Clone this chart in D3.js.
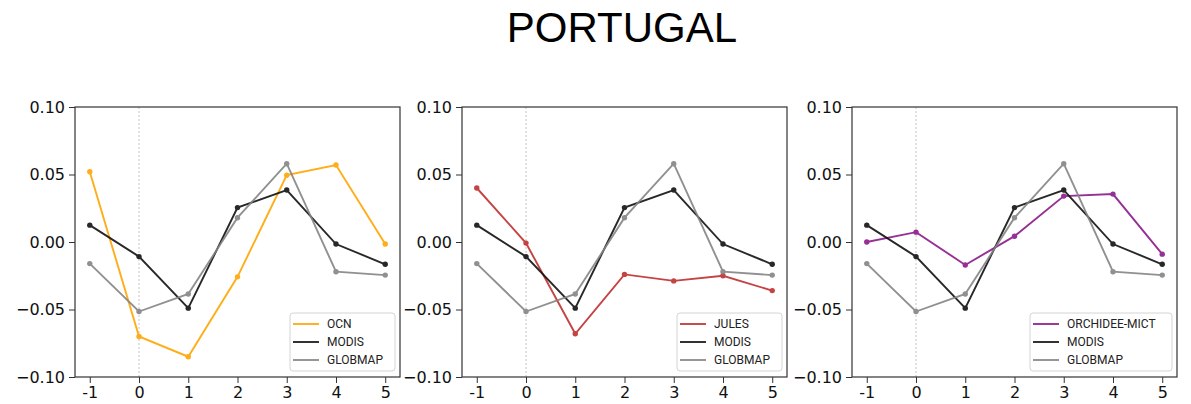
<!DOCTYPE html>
<html>
<head>
<meta charset="utf-8">
<script src="https://cdn.jsdelivr.net/npm/d3@7"></script>
<style>
  html, body { margin: 0; padding: 0; background: #fff; }
  svg { display: block; }
</style>
</head>
<body>
<svg id="chart" width="1191" height="404"></svg>
<script>
// Years relative to the event
const years = [-1, 0, 1, 2, 3, 4, 5];
const yTicks = [-0.10, -0.05, 0.00, 0.05, 0.10];

// Satellite reference series (same in every panel)
const modis   = [0.0125, -0.0108, -0.049, 0.0255, 0.0385, -0.0015, -0.0165];
const globmap = [-0.016, -0.0515, -0.0385, 0.018, 0.058, -0.022, -0.0245];

// Model series, one per panel
const ocn      = [0.052, -0.070, -0.085, -0.0258, 0.0495, 0.057, -0.0015];
const jules    = [0.040, -0.0008, -0.068, -0.024, -0.0288, -0.025, -0.036];
const orchidee = [0.000, 0.0073, -0.017, 0.0043, 0.034, 0.0355, -0.009];

const modelNames = ["OCN", "JULES", "ORCHIDEE-MICT"];
const modelSeries = [ocn, jules, orchidee];
const modelColors = ["#ffa500", "#c02f2f", "#8b1a8b"];

const svg = d3.select("#chart");

svg.append("text")
  .attr("x", 622).attr("y", 42)
  .attr("text-anchor", "middle")
  .style("font-family", "'Liberation Sans', Arial, sans-serif")
  .style("font-size", "42px")
  .attr("fill", "#000")
  .text("PORTUGAL");

const panelLefts = [75, 462, 852];
const panelWidth = 325;
const plotTop = 107, plotBottom = 377;

const y = d3.scaleLinear().domain([-0.10, 0.10]).range([plotBottom, plotTop]);

panelLefts.forEach((left, i) => {
  const x = d3.scaleLinear().domain([-1.3, 5.3]).range([left, left + panelWidth]);
  const g = svg.append("g");

  // dashed marker at year 0
  g.append("line")
    .attr("x1", x(0)).attr("x2", x(0))
    .attr("y1", plotTop).attr("y2", plotBottom)
    .attr("stroke", "#b8b8b8")
    .attr("stroke-width", 0.8)
    .attr("stroke-dasharray", "2,2");

  const series = [
    { name: modelNames[i], values: modelSeries[i], color: modelColors[i] },
    { name: "MODIS", values: modis, color: "#111111" },
    { name: "GLOBMAP", values: globmap, color: "#858585" }
  ];

  const line = d3.line().x((d, k) => x(years[k])).y(d => y(d));

  series.forEach(s => {
    const sg = g.append("g").attr("opacity", 0.9);
    sg.append("path")
      .datum(s.values)
      .attr("d", line)
      .attr("fill", "none")
      .attr("stroke", s.color)
      .attr("stroke-width", 1.9);
    sg.selectAll("circle")
      .data(s.values)
      .join("circle")
      .attr("cx", (d, k) => x(years[k]))
      .attr("cy", d => y(d))
      .attr("r", 2.7)
      .attr("fill", s.color);
  });

  // axes
  const xAxis = d3.axisBottom(x).tickValues(years)
    .tickFormat(d => String(d)).tickSize(6).tickPadding(4);
  const yAxis = d3.axisLeft(y).tickValues(yTicks)
    .tickFormat(d => d3.format(".2f")(d).replace("-", "\u2212")).tickSize(6).tickPadding(4);

  const gx = g.append("g").attr("transform", `translate(0,${plotBottom})`).call(xAxis);
  const gy = g.append("g").attr("transform", `translate(${left},0)`).call(yAxis);
  [gx, gy].forEach(a => {
    a.select(".domain").remove();
    a.selectAll(".tick line").attr("stroke", "#333").attr("stroke-width", 1);
    a.selectAll(".tick text")
      .style("font-family", "'DejaVu Sans', sans-serif")
      .style("font-size", "16px")
      .attr("fill", "#111");
  });

  // frame
  g.append("rect")
    .attr("x", left).attr("y", plotTop)
    .attr("width", panelWidth).attr("height", plotBottom - plotTop)
    .attr("fill", "none")
    .attr("stroke", "#333")
    .attr("stroke-width", 1.2);

  // legend, lower right
  const legW = i === 2 ? 142 : 105;
  const legH = 58;
  const lx = left + panelWidth - 5 - legW;
  const ly = plotBottom - 6 - legH;
  const lg = g.append("g").attr("transform", `translate(${lx},${ly})`);
  lg.append("rect")
    .attr("width", legW).attr("height", legH)
    .attr("rx", 3)
    .attr("fill", "#fff").attr("fill-opacity", 0.85)
    .attr("stroke", "#d4d4d4");
  series.forEach((s, k) => {
    const ry = 11 + k * 18;
    lg.append("line")
      .attr("x1", 3).attr("x2", 29)
      .attr("y1", ry).attr("y2", ry)
      .attr("stroke", s.color)
      .attr("stroke-width", 1.9)
      .attr("opacity", 0.9);
    lg.append("text")
      .attr("x", 37).attr("y", ry + 4.3)
      .style("font-family", "Roboto, sans-serif")
      .style("font-size", "12px")
      .attr("fill", "#222")
      .text(s.name);
  });
});
</script>
</body>
</html>
